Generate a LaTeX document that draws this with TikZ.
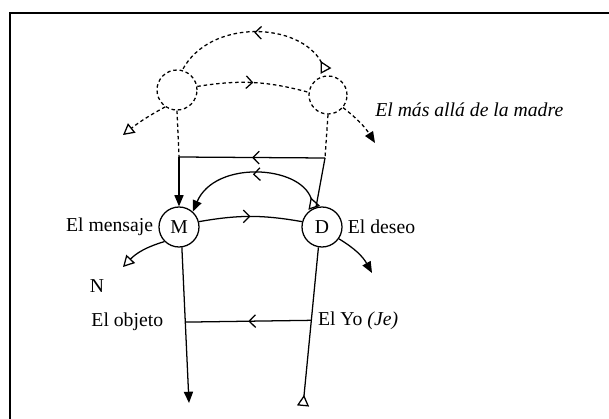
\documentclass[tikz,border=0pt]{standalone}
\usepackage{fontspec}
\setmainfont{Liberation Serif}
\usetikzlibrary{arrows.meta,positioning,decorations.markings,calc}

\tikzset{
  midarrow/.style={postaction={decorate,decoration={markings,
      mark=at position #1 with {\arrow{Straight Barb[length=4.5pt,width=9pt]}}}}},
  midarrow/.default=0.5,
  tri/.tip={Triangle[open,length=8pt,width=8.5pt]},
}

\begin{document}
\begin{tikzpicture}[x=0.025cm, y=-0.025cm, line width=0.9pt,
    font=\fontsize{14}{16}\selectfont,
    >={Triangle[length=8pt,width=6.5pt]},
    pt/.style={circle, draw, minimum size=1cm, inner sep=0pt},
    ghost/.style={dash pattern=on 2.5pt off 2pt}]
    \useasboundingbox (0,0) rectangle (609,419);
    \draw[line width=1.5pt] (10,419) -- (10,13) -- (609,13);

    \node[pt] (M) at (179,227) {M};
    \node[pt] (D) at (322,227) {D};
    \node[pt, ghost] (L) at (177,90) {};
    \node[pt, ghost, minimum size=0.95cm] (R) at (328,95) {};

    \coordinate (tl) at (179,157);
    \coordinate (tr) at (325,158);
    \coordinate (n) at (123,267);
    \coordinate (o) at (372,273);
    \coordinate (b1) at (189,403);
    \coordinate (b2) at (303,406);
    \coordinate (l1) at (123,135);
    \coordinate (r1) at (375,143);
    \coordinate (r2) at (326,71);
    \coordinate (yo) at ($(D.-100)!0.46!(b2)$);
    \coordinate (ob) at ($(M.-82)!0.48!(b1)$);

    % beyond the mother
    \draw[ghost, midarrow, {tri[reversed]}-] (r2) .. controls (300,22) and (210,18) .. (L.75);
    \draw[ghost, midarrow] (L.10) to[bend left=12] (R.172);
    \draw[ghost, -{tri}] (L.235) to[bend right=5] (l1);
    \draw[ghost, ->] (R.-40) to[bend left=10] (r1);
    \draw[ghost] (L.south) -- (tl);
    \draw[ghost] (R.south) -- (tr);

    % message and desire
    \draw[midarrow] (tr) -- (tl);
    \draw[->] (tl) -- (M.north);
    \draw (tr) -- (D.107);
    \draw[{tri[reversed]}->, midarrow] (D.112) .. controls (300,165) and (215,160) .. (M.48);
    \draw[midarrow] (M.15) to[bend left=10] (D.165);
    \draw[{tri}-] (n) to[bend left=15] (M.225);
    \draw[->] (D.-35) to[bend left=15] (o);
    \draw[->] (M.-82) -- (b1);
    \draw[-{tri[reversed]}] (D.-100) -- (b2);
    \draw[midarrow] (yo) -- (ob);

    \node[left=0pt of M] (ms) {El mensaje};
    \node[right=0pt of D] (ds) {El deseo};
    \node (N) at (97,286) {N};
    \node[left=12pt of ob] (obj) {El objeto};
    \node[right=1pt of yo] (je) {El Yo \textit{(Je)}};
    \node[anchor=west, font=\fontsize{14}{16}\selectfont\itshape] (ma) at (370,110) {El más allá de la madre};
\end{tikzpicture}
\end{document}
